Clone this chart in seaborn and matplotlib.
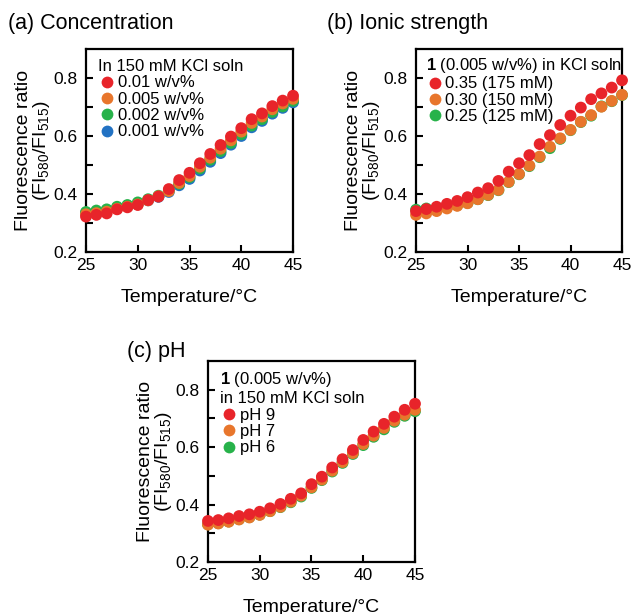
import numpy as np
import pandas as pd
import seaborn as sns
import matplotlib.pyplot as plt

# temperatures (deg C), one point per degree
temperature = list(range(25, 46))

# (a) concentration series
conc_labels = ["0.01 w/v%", "0.005 w/v%", "0.002 w/v%", "0.001 w/v%"]
conc_001 = [0.322, 0.328, 0.333, 0.347, 0.354, 0.362, 0.379, 0.391, 0.417, 0.448, 0.473,
            0.506, 0.538, 0.569, 0.598, 0.627, 0.658, 0.678, 0.703, 0.722, 0.739]
conc_0005 = [0.330, 0.334, 0.339, 0.349, 0.356, 0.364, 0.378, 0.392, 0.410, 0.438, 0.462,
             0.494, 0.525, 0.556, 0.585, 0.615, 0.645, 0.667, 0.692, 0.712, 0.728]
conc_0002 = [0.338, 0.343, 0.347, 0.356, 0.362, 0.371, 0.382, 0.394, 0.412, 0.435, 0.458,
             0.488, 0.518, 0.548, 0.576, 0.606, 0.636, 0.658, 0.683, 0.702, 0.721]
conc_0001 = [0.334, 0.339, 0.344, 0.352, 0.358, 0.366, 0.378, 0.390, 0.407, 0.430, 0.452,
             0.481, 0.511, 0.541, 0.570, 0.600, 0.630, 0.652, 0.677, 0.697, 0.716]

# (b) ionic strength series
ionic_labels = ["0.35 (175 mM)", "0.30 (150 mM)", "0.25 (125 mM)"]
ionic_035 = [0.341, 0.348, 0.356, 0.366, 0.376, 0.389, 0.405, 0.420, 0.445, 0.477, 0.506,
             0.534, 0.572, 0.603, 0.638, 0.670, 0.698, 0.727, 0.747, 0.767, 0.792]
ionic_030 = [0.328, 0.333, 0.341, 0.350, 0.359, 0.368, 0.382, 0.397, 0.414, 0.442, 0.469,
             0.498, 0.529, 0.563, 0.592, 0.621, 0.649, 0.672, 0.701, 0.721, 0.742]
ionic_025 = [0.346, 0.350, 0.348, 0.354, 0.361, 0.369, 0.382, 0.396, 0.413, 0.441, 0.468,
             0.496, 0.527, 0.558, 0.590, 0.620, 0.648, 0.670, 0.702, 0.720, 0.741]

# (c) pH series
ph_labels = ["pH 9", "pH 7", "pH 6"]
ph_9 = [0.343, 0.346, 0.352, 0.360, 0.366, 0.375, 0.387, 0.402, 0.420, 0.439, 0.471,
        0.497, 0.529, 0.558, 0.590, 0.625, 0.654, 0.681, 0.706, 0.730, 0.751]
ph_7 = [0.330, 0.334, 0.340, 0.348, 0.355, 0.364, 0.377, 0.392, 0.410, 0.431, 0.460,
        0.487, 0.518, 0.548, 0.579, 0.611, 0.640, 0.667, 0.692, 0.713, 0.730]
ph_6 = [0.331, 0.335, 0.341, 0.349, 0.356, 0.365, 0.377, 0.391, 0.408, 0.428, 0.458,
        0.485, 0.515, 0.545, 0.576, 0.607, 0.636, 0.662, 0.688, 0.709, 0.725]

RED, ORANGE, GREEN, BLUE = "#e8242a", "#e8762c", "#27b24a", "#2272c3"

sns.set_style("ticks")
plt.rcParams['font.family'] = ['Liberation Sans', 'DejaVu Sans']
plt.rcParams['mathtext.fontset'] = 'custom'
plt.rcParams['mathtext.rm'] = 'Liberation Sans'
plt.rcParams['mathtext.it'] = 'Liberation Sans:italic'
plt.rcParams['mathtext.bf'] = 'Liberation Sans:bold'
plt.rcParams['mathtext.sf'] = 'Liberation Sans'
for key in ['text.color', 'axes.labelcolor', 'xtick.color', 'ytick.color', 'axes.edgecolor']:
    plt.rcParams[key] = 'black'

TICK_FS = 12.5
LABEL_FS = 14
LEG_FS = 12


def make_frame(labels, series):
    # series given in drawing order (bottom first)
    rows = []
    for lab, vals in zip(labels, series):
        for t, v in zip(temperature, vals):
            rows.append({"T": t, "ratio": v, "series": lab})
    return pd.DataFrame(rows)


def draw_panel(ax, df, hue_order, colors, legend_title, anchor):
    sns.scatterplot(data=df, x="T", y="ratio", hue="series", hue_order=hue_order,
                    palette=colors, s=72, linewidth=0, ax=ax, zorder=3, clip_on=False)
    ax.set_xlim(25, 45)
    ax.set_ylim(0.2, 0.9)
    ax.set_xticks([25, 30, 35, 40, 45])
    ax.set_yticks([0.2, 0.4, 0.6, 0.8])
    ax.set_yticks([0.3, 0.5, 0.7], minor=True)
    ax.tick_params(which='both', direction='in', length=5, width=1.5,
                   labelsize=TICK_FS, color='black', labelcolor='black')
    ax.tick_params(axis='x', pad=4)
    ax.tick_params(axis='y', pad=6)
    for sp in ax.spines.values():
        sp.set_linewidth(1.6)
        sp.set_color('black')
    ax.set_xlabel("Temperature/°C", fontsize=LABEL_FS, labelpad=12)
    ax.set_ylabel("Fluorescence ratio\n(FI$_{\\mathrm{580}}$/FI$_{\\mathrm{515}}$)",
                  fontsize=LABEL_FS, labelpad=1, linespacing=0.95)
    sns.move_legend(ax, "upper left", bbox_to_anchor=anchor, title=legend_title,
                    frameon=False, fontsize=LEG_FS, title_fontsize=LEG_FS, borderpad=0,
                    borderaxespad=0, handlelength=1.0, handletextpad=0.15,
                    labelspacing=0.08, markerscale=1.0)
    leg = ax.get_legend()
    leg._legend_box.align = "left"
    for t in leg.get_texts():
        t.set_color('black')
    leg.get_title().set_color('black')


fig = plt.figure(figsize=(6.31, 6.14), dpi=100)
ax_a = fig.add_axes([0.1363, 0.5896, 0.3281, 0.3306])
ax_b = fig.add_axes([0.6593, 0.5896, 0.3265, 0.3306])
ax_c = fig.add_axes([0.3296, 0.0847, 0.3281, 0.3274])

df_a = make_frame(conc_labels[::-1], [conc_0001, conc_0002, conc_0005, conc_001])
draw_panel(ax_a, df_a, conc_labels, [RED, ORANGE, GREEN, BLUE],
           "In 150 mM KCl soln", (0.06, 0.95))

df_b = make_frame(ionic_labels[::-1], [ionic_025, ionic_030, ionic_035])
draw_panel(ax_b, df_b, ionic_labels, [RED, ORANGE, GREEN],
           "$\\mathbf{1}$ (0.005 w/v%) in KCl soln", (0.05, 0.965))

df_c = make_frame(ph_labels[::-1], [ph_6, ph_7, ph_9])
draw_panel(ax_c, df_c, ph_labels, [RED, ORANGE, GREEN],
           "$\\mathbf{1}$ (0.005 w/v%)\nin 150 mM KCl soln", (0.06, 0.955))

fig.text(8 / 631, 1 - 29 / 614, "(a) Concentration", fontsize=15.5, va='baseline')
fig.text(327 / 631, 1 - 29 / 614, "(b) Ionic strength", fontsize=15.5, va='baseline')
fig.text(127 / 631, 1 - 357 / 614, "(c) pH", fontsize=15.5, va='baseline')

fig.savefig("out.png", dpi=100)
